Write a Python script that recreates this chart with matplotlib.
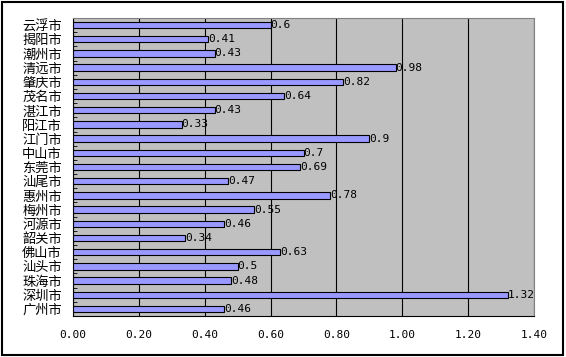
import matplotlib.pyplot as plt
from matplotlib.patches import Rectangle

plt.rcParams['font.family'] = ['Noto Sans CJK SC', 'DejaVu Sans']

# data, bottom to top
cities = ['广州市', '深圳市', '珠海市', '汕头市', '佛山市', '韶关市', '河源市',
          '梅州市', '惠州市', '汕尾市', '东莞市', '中山市', '江门市', '阳江市',
          '湛江市', '茂名市', '肇庆市', '清远市', '潮州市', '揭阳市', '云浮市']
values = [0.46, 1.32, 0.48, 0.5, 0.63, 0.34, 0.46,
          0.55, 0.78, 0.47, 0.69, 0.7, 0.9, 0.33,
          0.43, 0.64, 0.82, 0.98, 0.43, 0.41, 0.6]
value_labels = ['0.46', '1.32', '0.48', '0.5', '0.63', '0.34', '0.46',
                '0.55', '0.78', '0.47', '0.69', '0.7', '0.9', '0.33',
                '0.43', '0.64', '0.82', '0.98', '0.43', '0.41', '0.6']
xticks = [0.0, 0.2, 0.4, 0.6, 0.8, 1.0, 1.2, 1.4]

fig = plt.figure(figsize=(5.66, 3.57), dpi=100)
ax = fig.add_axes([0.129, 0.1148, 0.8145, 0.8348])
ax.set_facecolor('#C0C0C0')

pos = list(range(len(cities)))
ax.barh(pos, values, height=0.45, color='#9999FF', edgecolor='black', linewidth=0.8, zorder=3)

for p, v, t in zip(pos, values, value_labels):
    ax.text(v, p, t, va='center', ha='left', fontsize=8, family='DejaVu Sans Mono', zorder=4)

ax.set_xlim(0, 1.4)
ax.set_ylim(-0.5, len(cities) - 0.5)
ax.set_xticks(xticks)
ax.set_xticklabels(['%.2f' % x for x in xticks], family='DejaVu Sans Mono', fontsize=8)
ax.xaxis.grid(True, color='black', linewidth=0.8, zorder=1)
ax.set_axisbelow(True)
ax.tick_params(axis='x', length=0, pad=10)

ax.set_yticks(pos)
ax.set_yticklabels(cities, fontsize=9.5)
ax.set_yticks([p - 0.5 for p in pos] + [len(cities) - 0.5], minor=True)
ax.tick_params(axis='y', which='major', length=0, pad=8)
ax.tick_params(axis='y', which='minor', direction='in', length=3, color='black')

ax.spines['left'].set_color('black')
ax.spines['bottom'].set_color('black')
ax.spines['top'].set_color('#808080')
ax.spines['right'].set_color('#808080')

# outer chart frame
fig.patches.append(Rectangle((0.004, 0.006), 0.99, 0.989, transform=fig.transFigure,
                             fill=False, edgecolor='black', linewidth=1.5))

fig.savefig('out.png', dpi=100)
